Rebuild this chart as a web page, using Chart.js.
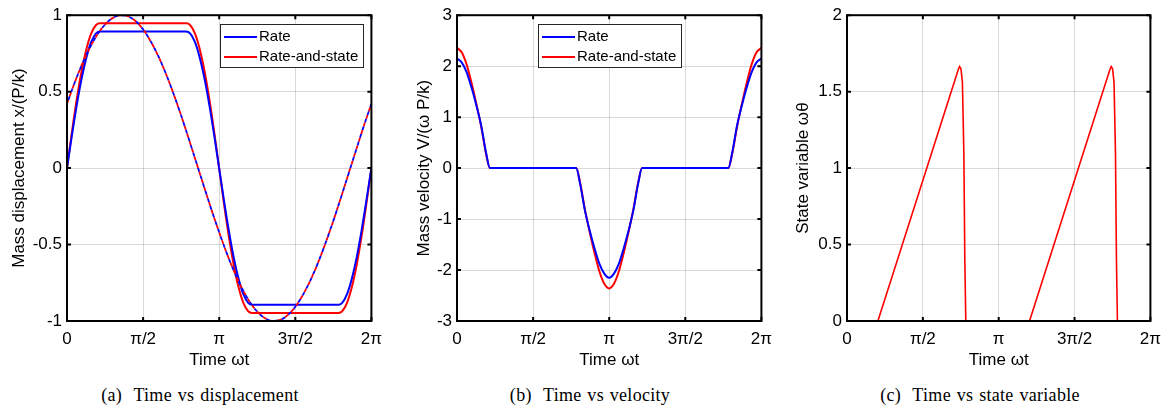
<!DOCTYPE html>
<html>
<head>
<meta charset="utf-8">
<script src="https://cdn.jsdelivr.net/npm/chart.js@4.4.1/dist/chart.umd.min.js"></script>
<style>
    body { margin: 0; width: 1169px; height: 407px; overflow: hidden; background: #fff; position: relative; }
    canvas { position: absolute; top: 0; }
    .cap { position: absolute; top: 385px; width: 390px; text-align: center; font: 18px "Liberation Serif", "Times New Roman", serif; letter-spacing: 0.3px; word-spacing: 1px; color: #000; }
</style>
</head>
<body>
<canvas id="dispChart" width="390" height="375" style="left:0"></canvas>
<canvas id="velChart" width="390" height="375" style="left:390px"></canvas>
<canvas id="stateChart" width="389" height="375" style="left:780px"></canvas>
<div class="cap" style="left:5px">(a)&nbsp; Time vs displacement</div>
<div class="cap" style="left:395px">(b)&nbsp; Time vs velocity</div>
<div class="cap" style="left:785px">(c)&nbsp; Time vs state variable</div>

<script>
// --- DATA ---
const xTickValues = [0, 1.5708, 3.1416, 4.7124, 6.2832];
const xTickLabels = ['0', 'π/2', 'π', '3π/2', '2π'];

// time samples for the two slip models (radians)
const tSlip = [0, 0.1, 0.2, 0.3, 0.4, 0.5, 0.6, 0.68,
    2.46, 2.54, 2.64, 2.74, 2.84, 2.94, 3.04, 3.14,
    3.24, 3.34, 3.44, 3.54, 3.64, 3.74, 3.82,
    5.60, 5.68, 5.78, 5.88, 5.98, 6.08, 6.18, 6.283];

const dispRate = [0, 0.211, 0.409, 0.582, 0.722, 0.825, 0.881, 0.893,
    0.893, 0.881, 0.825, 0.722, 0.582, 0.409, 0.211, 0,
    -0.211, -0.409, -0.582, -0.722, -0.825, -0.881, -0.893,
    -0.893, -0.881, -0.825, -0.722, -0.582, -0.409, -0.211, 0];
const dispRateState = [0, 0.232, 0.447, 0.632, 0.778, 0.881, 0.936, 0.947,
    0.947, 0.936, 0.881, 0.778, 0.632, 0.447, 0.232, 0,
    -0.232, -0.447, -0.632, -0.778, -0.881, -0.936, -0.947,
    -0.947, -0.936, -0.881, -0.778, -0.632, -0.447, -0.232, 0];

const velRate = [2.15, 2.07, 1.88, 1.58, 1.23, 0.83, 0.30, 0,
    0, -0.30, -0.83, -1.23, -1.58, -1.88, -2.07, -2.15,
    -2.07, -1.88, -1.58, -1.23, -0.83, -0.30, 0,
    0, 0.30, 0.83, 1.23, 1.58, 1.88, 2.07, 2.15];
const velRateState = [2.36, 2.27, 2.03, 1.67, 1.26, 0.81, 0.28, 0,
    0, -0.28, -0.81, -1.26, -1.67, -2.03, -2.27, -2.36,
    -2.27, -2.03, -1.67, -1.26, -0.81, -0.28, 0,
    0, 0.28, 0.81, 1.26, 1.67, 2.03, 2.27, 2.36];

// dash-dot reference curve (same for both models)
const tForce = [0, 0.157, 0.314, 0.471, 0.628, 0.785, 0.942, 1.100, 1.257, 1.414,
    1.571, 1.728, 1.885, 2.042, 2.199, 2.356, 2.513, 2.670, 2.827, 2.985,
    3.142, 3.299, 3.456, 3.613, 3.770, 3.927, 4.084, 4.241, 4.398, 4.555,
    4.712, 4.869, 5.027, 5.184, 5.341, 5.498, 5.655, 5.812, 5.969, 6.126, 6.283];
const forceCurve = [0.421, 0.558, 0.681, 0.787, 0.874, 0.939, 0.981, 0.999, 0.993, 0.962,
    0.907, 0.829, 0.732, 0.617, 0.486, 0.344, 0.192, 0.036, -0.120, -0.275,
    -0.421, -0.558, -0.681, -0.787, -0.874, -0.939, -0.981, -0.999, -0.993, -0.962,
    -0.907, -0.829, -0.732, -0.617, -0.486, -0.344, -0.192, -0.036, 0.120, 0.275, 0.421];

// state variable (rate-and-state only)
const tState = [0, 0.64, 2.30, 2.33, 2.36, 2.39, 2.42, 2.44, 2.46,
    3.78, 5.44, 5.47, 5.50, 5.53, 5.56, 5.58, 5.60, 6.283];
const stateVals = [0, 0, 1.64, 1.665, 1.65, 1.56, 1.10, 0.40, 0,
    0, 1.64, 1.665, 1.65, 1.56, 1.10, 0.40, 0, 0];

// --- HELPERS ---
const FONT = '"Liberation Sans", Arial, Helvetica, sans-serif';
const BLUE = '#0000ff';
const RED = '#ff0000';

const toPoints = (xs, ys) => xs.map((x, i) => ({ x: x, y: ys[i] }));

// black box with inward tick marks, like a MATLAB axes
const axesBox = {
    id: 'axesBox',
    afterDatasetsDraw(chart) {
        const { ctx, chartArea: a, scales: { x, y } } = chart;
        ctx.save();
        ctx.strokeStyle = '#000';
        ctx.lineWidth = 2;
        ctx.beginPath();
        x.ticks.forEach(t => {
            const px = x.getPixelForValue(t.value);
            ctx.moveTo(px, a.bottom); ctx.lineTo(px, a.bottom - 4);
            ctx.moveTo(px, a.top); ctx.lineTo(px, a.top + 4);
        });
        y.ticks.forEach(t => {
            const py = y.getPixelForValue(t.value);
            ctx.moveTo(a.left, py); ctx.lineTo(a.left + 4, py);
            ctx.moveTo(a.right, py); ctx.lineTo(a.right - 4, py);
        });
        ctx.stroke();
        ctx.strokeRect(a.left, a.top, a.right - a.left, a.bottom - a.top);
        ctx.restore();
    }
};

// legend box drawn inside the plot area
const insideLegend = {
    id: 'insideLegend',
    afterDraw(chart, args, opts) {
        if (!opts || !opts.align) return;
        const { ctx, chartArea: a } = chart;
        const items = chart.data.datasets.filter(d => d.label);
        ctx.save();
        ctx.font = '15px ' + FONT;
        const textW = Math.max(...items.map(d => ctx.measureText(d.label).width));
        const w = Math.round(39 + textW + 5), h = 43;
        const x = opts.align === 'right' ? Math.round(a.right - 8 - w) : Math.round((a.left + a.right - w) / 2);
        const y = Math.round(a.top + 9);
        ctx.fillStyle = '#fff';
        ctx.fillRect(x, y, w, h);
        ctx.strokeStyle = '#262626';
        ctx.lineWidth = 1;
        ctx.strokeRect(x + 0.5, y + 0.5, w, h);
        items.forEach((d, i) => {
            const cy = y + 13 + i * 20;
            ctx.strokeStyle = d.borderColor;
            ctx.lineWidth = 2;
            ctx.beginPath();
            ctx.moveTo(x + 4, cy);
            ctx.lineTo(x + 37, cy);
            ctx.stroke();
            ctx.fillStyle = '#000';
            ctx.textBaseline = 'middle';
            ctx.textAlign = 'left';
            ctx.fillText(d.label, x + 39, cy);
        });
        ctx.restore();
    }
};

function makeOptions(yMin, yMax, yStep, yTitle, titlePad, legendAlign, rightPad) {
    return {
        responsive: false,
        animation: false,
        layout: { padding: { top: 14, right: rightPad, left: 0, bottom: 0 } },
        plugins: {
            legend: { display: false },
            tooltip: { enabled: false },
            insideLegend: { align: legendAlign }
        },
        elements: { point: { radius: 0 } },
        scales: {
            x: {
                type: 'linear',
                min: 0,
                max: 6.2832,
                afterBuildTicks: s => { s.ticks = xTickValues.map(v => ({ value: v })); },
                afterFit: s => { s.height = 54; },
                ticks: {
                    callback: (v, i) => xTickLabels[i],
                    font: { family: FONT, size: 17 },
                    color: '#000',
                    padding: 8,
                    maxRotation: 0,
                    autoSkip: false
                },
                grid: { color: 'rgba(0,0,0,0.15)', lineWidth: 1, drawTicks: false },
                border: { display: false },
                title: {
                    display: true,
                    text: 'Time ωt',
                    font: { family: FONT, size: 17 },
                    color: '#000',
                    padding: { top: 0, bottom: 4 }
                }
            },
            y: {
                min: yMin,
                max: yMax,
                afterFit: s => { s.width = 67; },
                ticks: {
                    stepSize: yStep,
                    callback: v => String(Number(v.toFixed(2))),
                    font: { family: FONT, size: 17 },
                    color: '#000',
                    padding: 5
                },
                grid: { color: 'rgba(0,0,0,0.15)', lineWidth: 1, drawTicks: false },
                border: { display: false },
                title: {
                    display: true,
                    text: yTitle,
                    font: { family: FONT, size: 17 },
                    color: '#000',
                    padding: { top: titlePad, bottom: 0 }
                }
            }
        }
    };
}

function solid(label, color, xs, ys, width) {
    return {
        label: label,
        data: toPoints(xs, ys),
        borderColor: color,
        backgroundColor: color,
        borderWidth: width,
        cubicInterpolationMode: 'monotone',
        fill: false
    };
}

function dashDot(color, offset) {
    return {
        data: toPoints(tForce, forceCurve),
        borderColor: color,
        borderWidth: 1.8,
        borderDash: [4, 4],
        borderDashOffset: offset,
        cubicInterpolationMode: 'monotone',
        fill: false
    };
}

// --- (a) DISPLACEMENT ---
new Chart(document.getElementById('dispChart'), {
    type: 'line',
    data: {
        datasets: [
            dashDot(RED, 0),
            dashDot(BLUE, 4),
            solid('Rate', BLUE, tSlip, dispRate, 2),
            solid('Rate-and-state', RED, tSlip, dispRateState, 2)
        ]
    },
    options: makeOptions(-1, 1, 0.5, 'Mass displacement x/(P/k)', 9, 'right', 16),
    plugins: [axesBox, insideLegend]
});

// --- (b) VELOCITY ---
new Chart(document.getElementById('velChart'), {
    type: 'line',
    data: {
        datasets: [
            solid('Rate', BLUE, tSlip, velRate, 2),
            solid('Rate-and-state', RED, tSlip, velRateState, 2)
        ]
    },
    options: makeOptions(-3, 3, 1, 'Mass velocity V/(ω P/k)', 24, 'center', 16),
    plugins: [axesBox, insideLegend]
});

// --- (c) STATE VARIABLE ---
const stateDs = solid('', RED, tState, stateVals, 1.6);
stateDs.cubicInterpolationMode = 'default';
stateDs.tension = 0;
new Chart(document.getElementById('stateChart'), {
    type: 'line',
    data: { datasets: [stateDs] },
    options: makeOptions(0, 2, 0.5, 'State variable ωθ', 13, null, 15),
    plugins: [axesBox, insideLegend]
});
</script>
</body>
</html>
